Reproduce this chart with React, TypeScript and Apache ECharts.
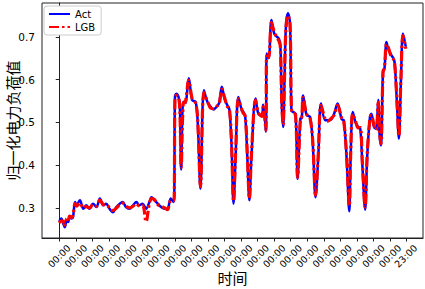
import React, { useEffect, useRef } from "react";
import * as echarts from "echarts";

const hours = [
  0, 3, 6, 8, 11, 13, 15, 18, 20, 23, 25, 30, 35, 39, 44, 49, 54, 59, 64, 68, 73, 78, 83, 88, 92, 97, 102, 107, 112, 116,
  121, 126, 131, 134, 138, 143, 148, 153, 157, 162, 166,
  167, 168, 170, 173, 175, 177, 180, 183, 188, 193, 198, 201, 205, 210, 215, 220, 224, 227, 232, 236, 240, 244, 247, 250,
  253, 256, 260, 265, 267, 270, 273, 276, 279, 285, 289, 294, 296, 300, 301, 304, 308, 312, 316, 319, 321, 323, 325, 327,
  329, 332, 335, 337, 339, 343, 346, 350, 352, 354, 359, 364, 368, 372, 376, 380, 386, 390, 395, 399, 404, 410, 413, 417,
  421, 423, 426, 430, 434, 437, 440, 444, 447, 451, 453, 457, 460, 463, 465, 467, 470, 472, 475, 477, 482, 485, 487, 490,
  493, 496, 499, 503,
];

const actValues = [
  0.267, 0.275, 0.263, 0.255, 0.271, 0.267, 0.279, 0.275, 0.279, 0.314, 0.306, 0.318, 0.298, 0.306, 0.298, 0.31, 0.302,
  0.322, 0.306, 0.31, 0.298, 0.29, 0.302, 0.31, 0.314, 0.302, 0.298, 0.306, 0.314, 0.306, 0.31, 0.298, 0.314, 0.325,
  0.318, 0.31, 0.302, 0.298, 0.298, 0.322, 0.314,
  0.33, 0.56, 0.567, 0.56, 0.54, 0.39, 0.548, 0.545, 0.603, 0.552, 0.548, 0.5, 0.345, 0.575, 0.548, 0.536, 0.53, 0.534,
  0.545, 0.583, 0.555, 0.54, 0.53, 0.45, 0.31, 0.42, 0.559, 0.528, 0.525, 0.513, 0.42, 0.318, 0.42, 0.556, 0.52, 0.516,
  0.541, 0.478, 0.661, 0.65, 0.739, 0.708, 0.7, 0.695, 0.68, 0.54, 0.489, 0.6, 0.723, 0.755, 0.731, 0.528, 0.525, 0.52,
  0.368, 0.509, 0.51, 0.563, 0.517, 0.513, 0.45, 0.325, 0.42, 0.544, 0.505, 0.505, 0.507, 0.52, 0.544, 0.507, 0.505, 0.42,
  0.292, 0.42, 0.524, 0.5, 0.489, 0.485, 0.4, 0.296, 0.42, 0.513, 0.52, 0.489, 0.485, 0.552, 0.47, 0.446, 0.622, 0.625,
  0.688, 0.675, 0.657, 0.65, 0.638, 0.55, 0.462, 0.6, 0.708, 0.677,
];

const lgbValues = [
  0.265, 0.27, 0.268, 0.26, 0.275, 0.27, 0.281, 0.278, 0.283, 0.31, 0.304, 0.312, 0.3, 0.303, 0.3, 0.308, 0.304, 0.318,
  0.308, 0.307, 0.301, 0.294, 0.3, 0.308, 0.311, 0.304, 0.3, 0.304, 0.31, 0.305, 0.306, 0.268, 0.312, 0.322, 0.32, 0.308,
  0.304, 0.3, 0.296, 0.318, 0.316,
  0.335, 0.556, 0.563, 0.558, 0.535, 0.395, 0.545, 0.547, 0.598, 0.555, 0.545, 0.505, 0.35, 0.57, 0.55, 0.533, 0.532,
  0.536, 0.543, 0.578, 0.558, 0.537, 0.532, 0.455, 0.315, 0.425, 0.555, 0.53, 0.522, 0.515, 0.425, 0.322, 0.425, 0.552,
  0.523, 0.514, 0.536, 0.482, 0.655, 0.652, 0.733, 0.712, 0.698, 0.69, 0.675, 0.545, 0.494, 0.605, 0.718, 0.75, 0.728,
  0.532, 0.522, 0.518, 0.372, 0.505, 0.513, 0.558, 0.52, 0.51, 0.455, 0.33, 0.425, 0.54, 0.508, 0.503, 0.51, 0.517,
  0.54, 0.51, 0.502, 0.425, 0.305, 0.425, 0.52, 0.503, 0.487, 0.488, 0.405, 0.302, 0.425, 0.51, 0.517, 0.492, 0.482,
  0.547, 0.475, 0.45, 0.617, 0.628, 0.683, 0.678, 0.653, 0.648, 0.635, 0.555, 0.468, 0.605, 0.703, 0.672,
];

const xTickHours = [0, 24, 48, 72, 96, 120, 144, 168, 192, 216, 240, 264, 288, 312, 336, 360, 384, 408, 432, 456, 480, 503];
const xTickLabels = [
  "00:00", "00:00", "00:00", "00:00", "00:00", "00:00", "00:00", "00:00", "00:00", "00:00", "00:00",
  "00:00", "00:00", "00:00", "00:00", "00:00", "00:00", "00:00", "00:00", "00:00", "00:00", "23:00",
];
const yTicks = [0.3, 0.4, 0.5, 0.6, 0.7];

export default function App() {
  const ref = useRef<HTMLDivElement>(null);
  useEffect(() => {
    document.body.style.margin = "0";
    if (!ref.current) return;
    const chart = echarts.init(ref.current, null, { renderer: "svg" });
    const actData = hours.map((h, i) => [h, actValues[i]]);
    const lgbData = hours.map((h, i) => [h, lgbValues[i]]);
    const font = "'DejaVu Sans', sans-serif";
    const cjk = "'Noto Sans CJK SC', sans-serif";
    chart.setOption({
      animation: false,
      textStyle: { fontFamily: font },
      grid: {
        left: 42,
        right: 2,
        top: 3,
        bottom: 51,
        show: true,
        borderColor: "#222",
        borderWidth: 1,
        outerBoundsMode: "none",
      },
      legend: {
        left: 44,
        top: 6,
        orient: "vertical",
        itemWidth: 21,
        itemHeight: 10,
        itemGap: 3,
        padding: [3, 6, 3, 4],
        borderColor: "#cccccc",
        borderWidth: 1,
        borderRadius: 3,
        backgroundColor: "#ffffff",
        itemStyle: { opacity: 0 },
        textStyle: { fontSize: 10, color: "#000", fontFamily: font },
        data: ["Act", "LGB"],
      },
      xAxis: {
        type: "value",
        min: -25,
        max: 528,
        name: "时间",
        nameLocation: "middle",
        nameGap: 32,
        nameMoveOverlap: false,
        nameTextStyle: { fontSize: 15, color: "#000", fontFamily: cjk },
        axisLine: { show: true, lineStyle: { color: "#222", width: 1 } },
        axisTick: { show: true, length: 3.5, customValues: xTickHours, lineStyle: { color: "#222" } },
        axisLabel: {
          customValues: xTickHours,
          rotate: 45,
          align: "center",
          verticalAlign: "middle",
          margin: 18,
          fontSize: 9.5,
          color: "#000",
          fontFamily: font,
          formatter: (v: number) => {
            const idx = xTickHours.indexOf(Math.round(v));
            return idx >= 0 ? xTickLabels[idx] : "";
          },
        },
        splitLine: { show: false },
      },
      yAxis: {
        type: "value",
        min: 0.2297,
        max: 0.779,
        name: "归一化电力负荷值",
        nameLocation: "middle",
        nameRotate: 90,
        nameGap: 22,
        nameMoveOverlap: false,
        nameTextStyle: { fontSize: 15, color: "#000", fontFamily: cjk },
        axisLine: { show: true, lineStyle: { color: "#222", width: 1 } },
        axisTick: { show: true, length: 3.5, customValues: yTicks, lineStyle: { color: "#222" } },
        axisLabel: {
          customValues: yTicks,
          margin: 7,
          fontSize: 10.5,
          color: "#000",
          fontFamily: font,
          formatter: (v: number) => v.toFixed(1),
        },
        splitLine: { show: false },
      },
      series: [
        {
          name: "Act",
          type: "line",
          data: actData,
          symbol: "none",
          smooth: 0.35,
          lineStyle: { color: "#0000ff", width: 2.5 },
          itemStyle: { color: "#0000ff" },
        },
        {
          name: "LGB",
          type: "line",
          data: lgbData,
          symbol: "none",
          smooth: 0.35,
          lineStyle: { color: "#ff0000", width: 3.2, type: [10, 3, 2.5, 3] },
          itemStyle: { color: "#ff0000" },
        },
      ],
    });
    return () => chart.dispose();
  }, []);
  return <div ref={ref} style={{ width: 425, height: 289 }} />;
}
